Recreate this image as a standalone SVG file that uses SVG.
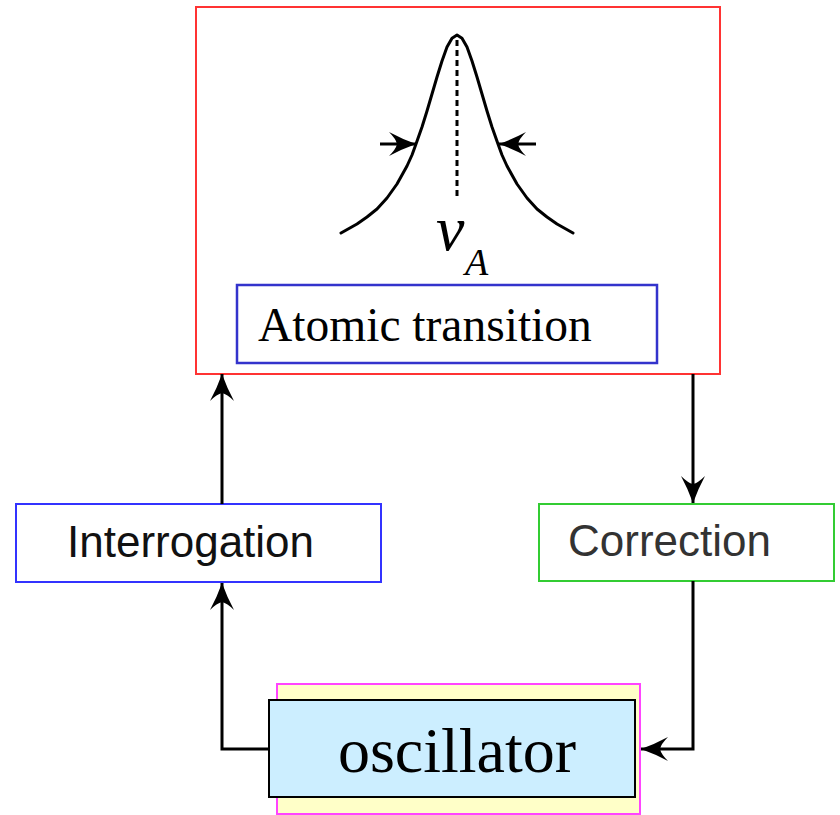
<svg xmlns="http://www.w3.org/2000/svg" width="840" height="815" viewBox="0 0 840 815">
<style>
.conn{fill:none;stroke:#000;stroke-width:3}
.serif{font-family:"Liberation Serif","Times New Roman",serif;fill:#000}
.sans{font-family:"Liberation Sans",Arial,sans-serif}
</style>
<defs>
<marker id="ah" viewBox="-30 -15 30 30" refX="0" refY="0" markerWidth="30" markerHeight="30" markerUnits="userSpaceOnUse" orient="auto">
<path d="M0,0 Q-14,-5 -27,-12 Q-20,-5 -19,0 Q-20,5 -27,12 Q-14,5 0,0Z" fill="#000"/>
</marker>
</defs>
<rect width="840" height="815" fill="#fff"/>
<g id="atomic">
<rect x="196" y="7" width="524" height="367" fill="#fff" stroke="#ff3333" stroke-width="2"/>
<polyline points="341,233 357,224 367,217 377,209 387,198 397,184 407,166 412,155 416,144 422,127 427,111 432,94 437,77 442,61 447,47 452,38.2 457,35 462,38.2 467,47 472,61 477,77 482,94 487,111 492,127 498,144 502,155 507,166 517,184 527,198 537,209 547,217 557,224 573,233" fill="none" stroke="#000" stroke-width="3" stroke-linejoin="round" stroke-linecap="round"/>
<line x1="457" y1="40" x2="457" y2="200" stroke="#000" stroke-width="3" stroke-dasharray="6,4"/>
<path d="M380,144 H416" class="conn" marker-end="url(#ah)"/>
<path d="M536,144 H499" class="conn" marker-end="url(#ah)"/>
<text x="436" y="250" class="serif" font-size="64" font-style="italic">ν</text>
<text x="465" y="275" class="serif" font-size="38" font-style="italic">A</text>
<rect x="237" y="285" width="420" height="78" fill="#fff" stroke="#3333cc" stroke-width="2.5"/>
<text x="258" y="341" class="serif" font-size="47.5">Atomic transition</text>
</g>
<g id="interrogation">
<rect x="16" y="504" width="365" height="78" fill="#fff" stroke="#3333ff" stroke-width="2"/>
<text x="67" y="557" class="sans" font-size="44" fill="#111">Interrogation</text>
</g>
<g id="correction">
<rect x="539" y="504" width="295" height="77" fill="#fff" stroke="#33cc33" stroke-width="2"/>
<text x="568" y="556" class="sans" font-size="44" fill="#333">Correction</text>
</g>
<g id="oscillator">
<rect x="277" y="684" width="363" height="130" fill="#ffffc8" stroke="#ff44ff" stroke-width="2"/>
<rect x="269" y="700" width="366" height="97" fill="#cceeff" stroke="#000" stroke-width="2"/>
<text x="457" y="772" class="serif" font-size="64" text-anchor="middle">oscillator</text>
</g>
<g id="connectors">
<path d="M222,504 V374" class="conn" marker-end="url(#ah)"/>
<path d="M693,374 V503" class="conn" marker-end="url(#ah)"/>
<path d="M269,749 H222 V583" class="conn" marker-end="url(#ah)"/>
<path d="M693,581 V749 H641" class="conn" marker-end="url(#ah)"/>
</g>
</svg>
